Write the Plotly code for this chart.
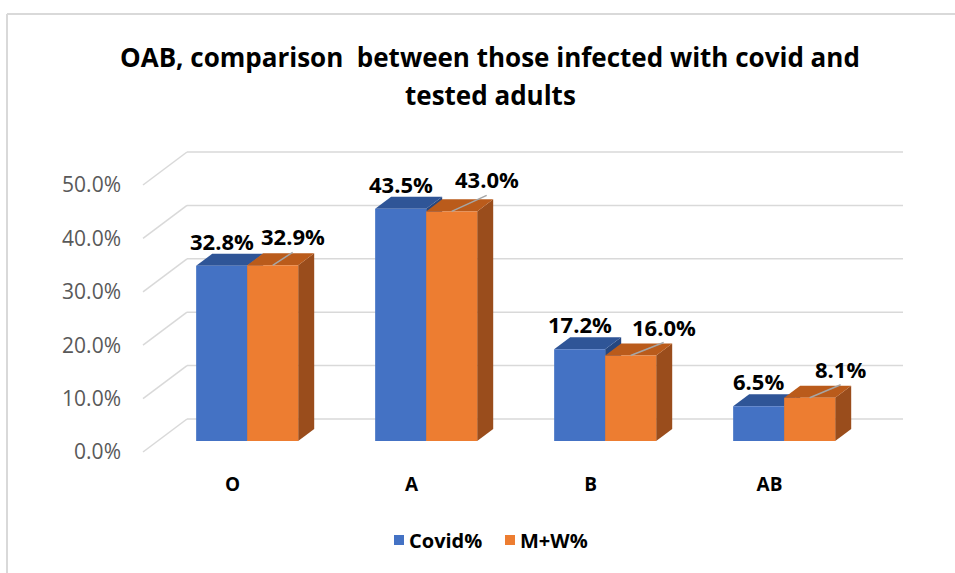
import plotly.graph_objects as go

# ---- data -------------------------------------------------------------
categories = ["O", "A", "B", "AB"]
covid_pct = [32.8, 43.5, 17.2, 6.5]
mw_pct = [32.9, 43.0, 16.0, 8.1]
series_names = ["Covid%", "M+W%"]
y_ticks = [0, 10, 20, 30, 40, 50]

# ---- styling ----------------------------------------------------------
FRONT = ["#4472C4", "#ED7D31"]
TOP = ["#2F5597", "#BA5B1B"]
SIDE = ["#264780", "#9A4D1C"]
GRID = "#D9D9D9"
FONT = "Open Sans"

W, H = 955, 573
ML, MR, MT, MB = 125, 33, 100, 110
PX_X = 179.0        # pixels per category step
PX_Y = 5.34         # pixels per percentage point
FLOOR_X0 = 143      # left edge of the floor front, px
FLOOR_Y0 = 452      # value 0 on the front plane, px

plot_w = W - ML - MR
plot_h = H - MT - MB
x_lo = -0.5 - (FLOOR_X0 - ML) / PX_X
x_hi = x_lo + plot_w / PX_X
y_lo = -(H - MB - FLOOR_Y0) / PX_Y
y_hi = y_lo + plot_h / PX_Y

# oblique depth direction of the 3-D box
DEPTH_DX = 44 / PX_X
DEPTH_DY = 33 / PX_Y
BAR_W = 0.285
Z_FRONT = 1 / 3
Z_BACK = Z_FRONT + 0.364

# label leader offsets for the second series (px right, px up)
MW_LEADER = [(20, 13), (35, 16), (33, 13), (31, 13)]


def proj(x, y, z):
    return x + z * DEPTH_DX, y + z * DEPTH_DY


def poly(points):
    xs, ys = zip(*[proj(*p) for p in points])
    return list(xs) + [xs[0]], list(ys) + [ys[0]]


def paper_x(px):
    return (px - ML) / plot_w


def paper_y(py):
    return (H - MB - py) / plot_h


fig = go.Figure()

# back wall and side wall gridlines
gx, gy = [], []
for t in y_ticks:
    for a, b in [((-0.5, t, 1), (len(categories) - 0.5, t, 1)),
                 ((-0.5, t, 0), (-0.5, t, 1))]:
        pa, pb = proj(*a), proj(*b)
        gx += [pa[0], pb[0], None]
        gy += [pa[1], pb[1], None]
fig.add_trace(go.Scatter(x=gx, y=gy, mode="lines",
                         line=dict(color=GRID, width=1.5),
                         hoverinfo="skip", showlegend=False))


def add_face(points, color):
    xs, ys = poly(points)
    fig.add_trace(go.Scatter(x=xs, y=ys, mode="lines", fill="toself",
                             fillcolor=color, line=dict(width=0, color=color),
                             hoverinfo="skip", showlegend=False))


series = [covid_pct, mw_pct]
for i, cat in enumerate(categories):
    for s, vals in enumerate(series):
        v = vals[i]
        xl = i - BAR_W + s * BAR_W
        xr = xl + BAR_W
        add_face([(xr, 0, Z_FRONT), (xr, 0, Z_BACK), (xr, v, Z_BACK), (xr, v, Z_FRONT)], SIDE[s])
        add_face([(xl, v, Z_FRONT), (xr, v, Z_FRONT), (xr, v, Z_BACK), (xl, v, Z_BACK)], TOP[s])
        add_face([(xl, 0, Z_FRONT), (xr, 0, Z_FRONT), (xr, v, Z_FRONT), (xl, v, Z_FRONT)], FRONT[s])

# value labels
label_font = dict(family=FONT, size=22, color="#000000", weight="bold")
lx, ly = [], []
for i in range(len(categories)):
    cx, cy = proj(i - BAR_W / 2, covid_pct[i], Z_FRONT)
    fig.add_annotation(x=cx, y=cy, text=f"{covid_pct[i]:.1f}%", showarrow=False,
                       yshift=25, yanchor="middle", font=label_font)
    ox, oy = proj(i + BAR_W / 2, mw_pct[i], Z_FRONT)
    dx, dy = MW_LEADER[i]
    ex, ey = ox + dx / PX_X, oy + dy / PX_Y
    lx += [ox, ex, None]
    ly += [oy, ey, None]
    fig.add_annotation(x=ex, y=ey, text=f"{mw_pct[i]:.1f}%", showarrow=False,
                       yshift=16, yanchor="middle", font=label_font)
fig.add_trace(go.Scatter(x=lx, y=ly, mode="lines", line=dict(color="#A6A6A6", width=1.5),
                         hoverinfo="skip", showlegend=False))

# legend: colour square followed by series name
legend_font = dict(family=FONT, size=20, color="#000000", weight="bold")
LEGEND_Y = 540
for s, (name, sq_left) in enumerate(zip(series_names, [394, 505])):
    fig.add_shape(type="rect", xref="paper", yref="paper",
                  x0=paper_x(sq_left), x1=paper_x(sq_left + 10),
                  y0=paper_y(LEGEND_Y + 5), y1=paper_y(LEGEND_Y - 5),
                  fillcolor=FRONT[s], line=dict(width=0))
    fig.add_annotation(xref="paper", yref="paper", x=paper_x(sq_left + 13), y=paper_y(LEGEND_Y),
                       xanchor="left", yanchor="middle", text=name, showarrow=False,
                       font=legend_font)

title_font = dict(family=FONT, size=26, color="#000000", weight="bold")
fig.add_annotation(xref="paper", yref="paper", x=paper_x(490), y=paper_y(57),
                   xanchor="center", yanchor="middle",
                   text="OAB, comparison  between those infected with covid and",
                   showarrow=False, font=title_font)
fig.add_annotation(xref="paper", yref="paper", x=paper_x(490), y=paper_y(95),
                   xanchor="center", yanchor="middle",
                   text="tested adults", showarrow=False, font=title_font)

# chart frame (top and left edges)
fig.add_shape(type="line", xref="paper", yref="paper", x0=paper_x(7), x1=paper_x(960),
              y0=paper_y(14), y1=paper_y(14), line=dict(color=GRID, width=2))
fig.add_shape(type="line", xref="paper", yref="paper", x0=paper_x(7), x1=paper_x(7),
              y0=paper_y(14), y1=paper_y(580), line=dict(color=GRID, width=2))

fig.update_layout(
    width=W, height=H,
    margin=dict(l=ML, r=MR, t=MT, b=MB, autoexpand=False),
    paper_bgcolor="white", plot_bgcolor="white",
    showlegend=False,
    xaxis=dict(range=[x_lo, x_hi], tickvals=list(range(len(categories))), ticktext=categories,
               showgrid=False, zeroline=False, showline=False, ticks="",
               ticklabelstandoff=8,
               tickfont=dict(family=FONT, size=19, color="#000000", weight="bold"),
               fixedrange=True),
    yaxis=dict(range=[y_lo, y_hi], tickvals=y_ticks, ticktext=[f"{t:.1f}%" for t in y_ticks],
               showgrid=False, zeroline=False, showline=False, ticks="",
               ticklabelstandoff=3,
               tickfont=dict(family=FONT, size=21, color="#595959"),
               fixedrange=True),
)

fig.write_html("out.html")
